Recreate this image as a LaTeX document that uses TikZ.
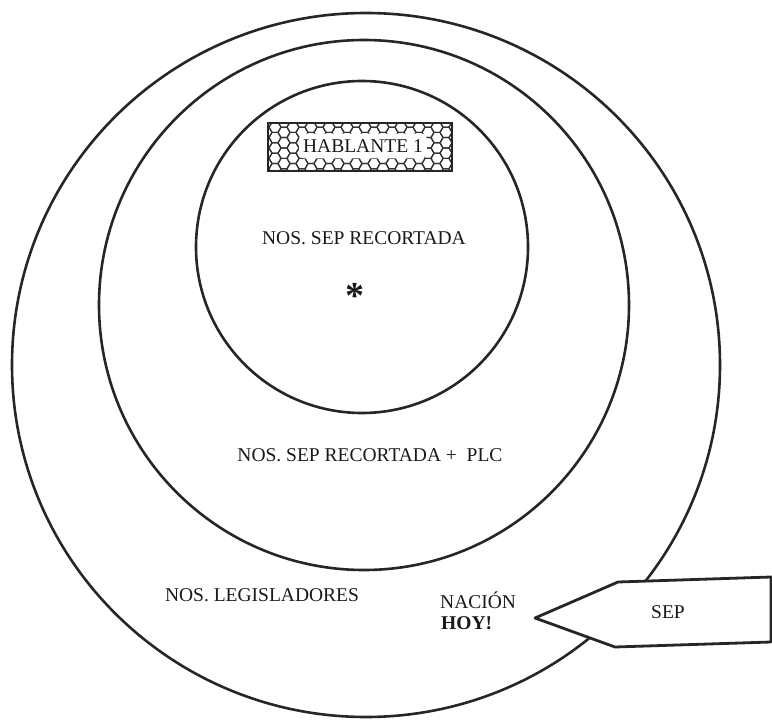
\documentclass[tikz,border=0pt]{standalone}
\usepackage{fontspec}
\setmainfont{Liberation Serif}
\tikzset{
  ring/.style={draw=black!85, line width=2.6pt},
  lbl/.style={text=black!90, font=\fontsize{19.5}{22}\selectfont, inner sep=0pt},
  hexline/.style={draw=black!80, line width=1.2pt},
}
\begin{document}
\begin{tikzpicture}[x=1pt,y=-1pt]
\useasboundingbox (0,0) rectangle (772,720);
% circles
\draw[ring] (366,365) ellipse [x radius=354, y radius=352];
\draw[ring] (364,305) circle [radius=265];
\draw[ring] (362,247) circle [radius=166];
% HABLANTE box with honeycomb
\begin{scope}
  \clip (268,123) rectangle (452,171);
  \foreach \i in {0,...,21}{
    \foreach \j in {0,...,5}{
      \pgfmathsetmacro{\cx}{266+\i*9}
      \pgfmathsetmacro{\cy}{122+\j*10.39+mod(\i,2)*5.196}
      \draw[hexline] (\cx+6,\cy) -- ++(120:6) -- ++(180:6) -- ++(240:6) -- ++(300:6) -- ++(0:6) -- cycle;
    }
  }
\end{scope}
\node[lbl, fill=white, inner xsep=4pt, inner ysep=6pt, rounded corners=5pt] (hab) at (363,146) {HABLANTE 1};
\draw[draw=black!85, line width=2.8pt] (268,123) rectangle (452,171);
% labels
\node[lbl] (nsr) at (364,238) {NOS. SEP RECORTADA};
\node[lbl, font=\fontsize{38}{38}\selectfont\bfseries] (ast) at (355,296) {*};
\node[lbl] (plc) at (370,455) {NOS. SEP RECORTADA +\ \ PLC};
\node[lbl] (leg) at (262,595) {NOS. LEGISLADORES};
\node[lbl, anchor=west] (nac) at (440,600) {NACIÓN};
\node[lbl, anchor=west, font=\fontsize{19.5}{22}\selectfont\bfseries] (hoy) at (441,623) {HOY!};
% SEP pentagon
\draw[draw=black!85, fill=white, line width=2.8pt, line join=round]
  (535,618) -- (618,582) -- (771,577) -- (771,642) -- (615,647) -- cycle;
\node[lbl] (sep) at (668,612) {SEP};
\end{tikzpicture}
\end{document}
